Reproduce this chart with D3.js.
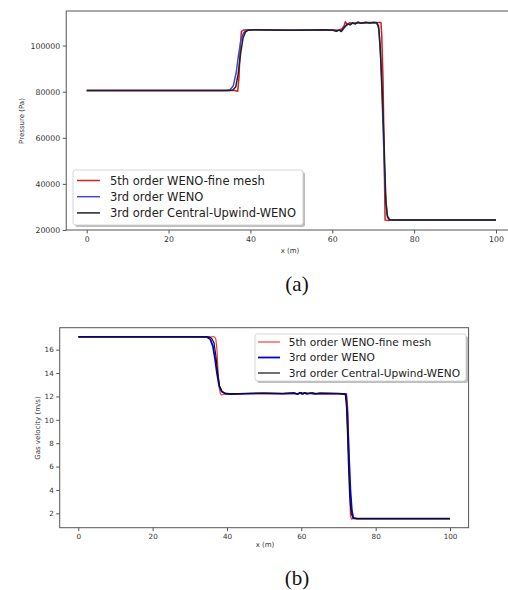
<!DOCTYPE html>
<html>
<head>
<meta charset="utf-8">
<script src="https://d3js.org/d3.v7.min.js"></script>
<style>
  body { margin: 0; background: #fff; }
  svg { display: block; font-family: "DejaVu Sans", sans-serif; }
  .tick text { fill: #333; }
</style>
</head>
<body>
<script>
// series names for both legends
var series_names = ["5th order WENO-fine mesh", "3rd order WENO", "3rd order Central-Upwind-WENO"]

// tick labels
var x_ticks = [0, 20, 40, 60, 80, 100]
var pressure_ticks = [20000, 40000, 60000, 80000, 100000]
var velocity_ticks = [2, 4, 6, 8, 10, 12, 14, 16]

// pressure (Pa) along x (m)
var pressure_red = [[0, 80500], [36.2, 80500], [36.9, 80200], [37.2, 86000], [37.5, 99000], [37.8, 106200],
  [38.4, 106800], [40, 106900], [45, 106800], [50, 106700], [55, 106800], [60, 106900], [61.5, 106700],
  [62.4, 107300], [62.9, 108600], [63.2, 110400], [63.6, 109200], [64.3, 109900], [65.2, 109600],
  [66.2, 110100], [67.2, 109700], [68.5, 110000], [70, 110000], [71.9, 110000], [72.1, 104000],
  [72.4, 85000], [72.7, 50000], [72.9, 24300], [73.6, 24100], [74.2, 24300], [100, 24300]]

var pressure_blue = [[0, 80500], [34, 80500], [35, 80800], [35.8, 82500], [36.5, 88000], [37.1, 96000],
  [37.7, 102500], [38.3, 105500], [39, 106600], [40, 106900], [45, 106800], [50, 106600], [55, 106800],
  [58, 106900], [60, 106700], [61, 106300], [61.7, 106800], [62.2, 106300], [62.8, 107700], [63.3, 108700],
  [63.8, 109500], [64.4, 109100], [65, 109900], [65.7, 109500], [66.4, 110100], [67.2, 109700], [68.2, 110100],
  [69.2, 109800], [70.2, 110000], [70.9, 109900], [71.4, 107000], [71.9, 92000], [72.4, 65000],
  [72.9, 38000], [73.4, 26500], [74, 24400], [75, 24300], [100, 24300]]

var pressure_black = [[0, 80500], [34.8, 80500], [35.7, 80700], [36.4, 82000], [37, 87500], [37.6, 96500],
  [38.2, 103300], [38.8, 105900], [39.5, 106700], [41, 106900], [45, 106800], [50, 106700], [55, 106800],
  [58, 106900], [60, 106700], [61, 106200], [61.7, 106700], [62.2, 106100], [62.8, 107500], [63.3, 108500],
  [63.8, 109300], [64.3, 109000], [65, 109800], [65.6, 109400], [66.3, 110000], [67, 109700], [68, 110000],
  [69, 109800], [70, 110000], [70.8, 109900], [71.3, 108500], [71.7, 100000], [72.2, 80000], [72.7, 55000],
  [73.1, 32000], [73.5, 25500], [74, 24400], [75, 24300], [100, 24300]]

// gas velocity (m/s) along x (m)
var velocity_red = [[0, 17.1], [36.6, 17.1], [37, 16.9], [37.3, 16], [37.6, 14.2], [37.9, 12.8], [38.2, 12.25],
  [38.6, 12.12], [39.3, 12.2], [42, 12.22], [50, 12.25], [55, 12.22], [60, 12.25], [63, 12.28], [65, 12.22],
  [70, 12.24], [72.2, 12.22], [72.5, 11], [72.8, 7], [73, 4], [73.2, 1.8], [73.5, 1.5], [74, 1.55], [100, 1.55]]

var velocity_blue = [[0, 17.1], [34.5, 17.1], [35.5, 16.9], [36.2, 16.3], [36.8, 15.2], [37.3, 14], [37.9, 12.9],
  [38.6, 12.42], [39.5, 12.25], [41, 12.2], [45, 12.24], [50, 12.27], [55, 12.24], [58, 12.28], [59, 12.2],
  [59.6, 12.32], [60.2, 12.22], [60.8, 12.3], [61.5, 12.22], [62.5, 12.28], [63.5, 12.22], [65, 12.26],
  [70, 12.24], [72, 12.2], [72.4, 10.5], [72.8, 7], [73.2, 4], [73.6, 2.2], [74, 1.6], [75, 1.55], [100, 1.55]]

var velocity_black = [[0, 17.1], [35, 17.1], [35.8, 17.0], [36.5, 16.6], [37, 15.5], [37.5, 14], [38, 12.9],
  [38.7, 12.4], [39.5, 12.25], [41, 12.22], [45, 12.25], [50, 12.28], [55, 12.25], [58, 12.3], [59, 12.2],
  [60, 12.33], [60.5, 12.2], [61, 12.3], [62, 12.25], [63, 12.3], [64, 12.22], [65, 12.28], [70, 12.25],
  [71.8, 12.2], [72.1, 11.5], [72.4, 9], [72.7, 6], [73, 3.5], [73.4, 2], [73.9, 1.6], [75, 1.55], [100, 1.55]]

// set width and height for svg
var w = 508
var h = 590

var svg = d3.select("body")
  .append("svg")
  .attr("width", w)
  .attr("height", h)

// function that draws one panel
function make_panel(opt) {
  var xScale = d3.scaleLinear().domain([0, 100]).range(opt.xrange)
  var yScale = d3.scaleLinear().domain(opt.ydomain).range([opt.bottom, opt.top])

  var g = svg.append("g")

  // lines, red first so black ends up on top
  var line = d3.line()
    .x(function(d) { return xScale(d[0]) })
    .y(function(d) { return yScale(d[1]) })

  opt.series.forEach(function(s, i) {
    g.append("path")
      .datum(s)
      .attr("d", line)
      .attr("fill", "none")
      .attr("stroke", opt.colors[i])
      .attr("stroke-width", opt.widths[i])
      .attr("stroke-linejoin", "round")
  })

  // axes box
  var left = xScale(-5)
  var right = xScale(105)
  g.append("rect")
    .attr("x", left)
    .attr("y", opt.top)
    .attr("width", right - left)
    .attr("height", opt.bottom - opt.top)
    .attr("fill", "none")
    .attr("stroke", "#555")
    .attr("stroke-width", 1)

  // x-axis
  var xa = g.append("g")
    .attr("transform", "translate(0," + opt.bottom + ")")
    .call(d3.axisBottom(xScale).tickValues(x_ticks).tickSize(3.5).tickPadding(2.5))
  xa.select(".domain").remove()
  xa.selectAll("line").attr("stroke", "#555")
  xa.selectAll("text").attr("font-size", opt.tickfont).attr("font-family", "DejaVu Sans")

  // y-axis
  var ya = g.append("g")
    .attr("transform", "translate(" + left + ",0)")
    .call(d3.axisLeft(yScale).tickValues(opt.yticks).tickSize(3.5).tickPadding(2.5).tickFormat(d3.format("d")))
  ya.select(".domain").remove()
  ya.selectAll("line").attr("stroke", "#555")
  ya.selectAll("text").attr("font-size", opt.tickfont).attr("font-family", "DejaVu Sans")

  // axis labels
  g.append("text")
    .attr("x", opt.xlabel_pos[0])
    .attr("y", opt.xlabel_pos[1])
    .attr("text-anchor", "middle")
    .attr("font-size", 7)
    .attr("fill", "#333")
    .text("x (m)")

  g.append("text")
    .attr("transform", "translate(" + opt.ylabel_pos[0] + "," + opt.ylabel_pos[1] + ") rotate(-90)")
    .attr("text-anchor", "middle")
    .attr("font-size", 7)
    .attr("fill", "#333")
    .text(opt.ylabel)

  // legend with shadow
  var L = opt.legend
  g.append("rect")
    .attr("x", L.x + 2).attr("y", L.y + 2)
    .attr("width", L.w).attr("height", L.h)
    .attr("rx", 2.5)
    .attr("fill", "#888").attr("opacity", 0.55)
  g.append("rect")
    .attr("x", L.x).attr("y", L.y)
    .attr("width", L.w).attr("height", L.h)
    .attr("rx", 2.5)
    .attr("fill", "#fff").attr("stroke", "#ccc").attr("stroke-width", 0.8)

  series_names.forEach(function(name, i) {
    var yy = L.y + L.first + i * L.step
    g.append("line")
      .attr("x1", L.x + L.pad).attr("x2", L.x + L.pad + L.sample)
      .attr("y1", yy).attr("y2", yy)
      .attr("stroke", opt.colors[i])
      .attr("stroke-width", opt.widths[i])
    g.append("text")
      .attr("x", L.x + L.textx)
      .attr("y", yy)
      .attr("dy", "0.35em")
      .attr("font-size", L.font)
      .attr("fill", "#222")
      .text(name)
  })

  // caption under the panel
  svg.append("text")
    .attr("x", 297)
    .attr("y", opt.caption_y)
    .attr("text-anchor", "middle")
    .attr("font-family", "Liberation Serif, serif")
    .attr("font-size", 21)
    .attr("fill", "#111")
    .text(opt.caption)
}

// panel (a): pressure
make_panel({
  xrange: [86.7, 496],
  ydomain: [20000, 115000],
  top: 11, bottom: 230,
  yticks: pressure_ticks,
  tickfont: 7.8,
  series: [pressure_red, pressure_blue, pressure_black],
  colors: ["#d42020", "#4646d2", "#222"],
  widths: [1.5, 1.5, 1.5],
  xlabel_pos: [290, 253],
  ylabel_pos: [24, 121],
  ylabel: "Pressure (Pa)",
  legend: { x: 73, y: 170, w: 230, h: 55, first: 10.5, step: 16.2, pad: 4, sample: 23, textx: 37, font: 11.5 },
  caption: "(a)",
  caption_y: 291
})

// panel (b): gas velocity
make_panel({
  xrange: [78.3, 450],
  ydomain: [0.77, 17.88],
  top: 327.7, bottom: 527.7,
  yticks: velocity_ticks,
  tickfont: 7.2,
  series: [velocity_red, velocity_blue, velocity_black],
  colors: ["#ff2b2b", "#0000e8", "#111"],
  widths: [1.1, 1.8, 1.2],
  xlabel_pos: [265, 547],
  ylabel_pos: [40, 428],
  ylabel: "Gas velocity (m/s)",
  legend: { x: 255, y: 334, w: 211, h: 47, first: 8, step: 15.5, pad: 3, sample: 22, textx: 33.7, font: 10.6 },
  caption: "(b)",
  caption_y: 585
})
</script>
</body>
</html>
